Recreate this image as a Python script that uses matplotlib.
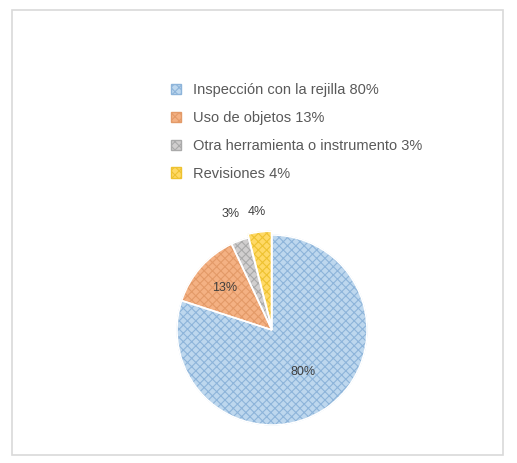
import matplotlib.pyplot as plt
from matplotlib.patches import Patch, Rectangle
import numpy as np

labels = ["Inspección con la rejilla", "Uso de objetos", "Otra herramienta o instrumento", "Revisiones"]
values = [80, 13, 3, 4]
colors = ["#bdd7ee", "#f4b183", "#d0cece", "#ffd966"]
hatch_colors = ["#8db4da", "#e39a68", "#aaaaaa", "#eec230"]

plt.rcParams['font.family'] = ['Liberation Sans', 'DejaVu Sans']
plt.rcParams['hatch.linewidth'] = 0.8

fig = plt.figure(figsize=(5.17, 4.63), dpi=100)
W, H = 517, 463

# light frame around the chart area
fig.patches.append(Rectangle((12 / W, 1 - 455 / H), 491 / W, 445 / H, transform=fig.transFigure,
                             fill=False, edgecolor="#d9d9d9", lw=1.2))

ax = fig.add_axes([177 / W, 1 - 425 / H, 190 / W, 190 / H])
explode = [0, 0, 0, 0.04]
wedges, _ = ax.pie(values, colors=colors, startangle=90, counterclock=False,
                   explode=explode, radius=1.0)
for w, hc in zip(wedges, hatch_colors):
    w.set_hatch("xxxx")
    w.set_edgecolor(hc)
    w.set_linewidth(0.6)

# thin white separators between the slices
sep, _ = ax.pie(values, startangle=90, counterclock=False, explode=explode, radius=1.0,
                wedgeprops=dict(fill=False, edgecolor="white", linewidth=1.2))

# percentage labels, inside for the big slices, outside for the small ones
dist = [0.55, 0.67, 1.3, 1.25]
for w, v, d in zip(wedges, values, dist):
    ang = np.deg2rad((w.theta1 + w.theta2) / 2)
    ax.text(d * np.cos(ang), d * np.sin(ang), f"{v}%", ha="center", va="center",
            fontsize=9, color="#404040")
ax.set_xlim(-1, 1)
ax.set_ylim(-1, 1)
ax.set_aspect("equal")

handles = [Patch(facecolor=c, edgecolor=hc, hatch="xxxx") for c, hc in zip(colors, hatch_colors)]
leg_labels = [f"{l} {v}%" for l, v in zip(labels, values)]
fig.legend(handles, leg_labels, loc="upper left", bbox_to_anchor=(158 / W, 1 - 70 / H),
           frameon=False, fontsize=10.5, handlelength=0.7, handleheight=0.7,
           handletextpad=0.8, labelspacing=0.95, labelcolor="#595959")

fig.savefig("out.png", dpi=100)
